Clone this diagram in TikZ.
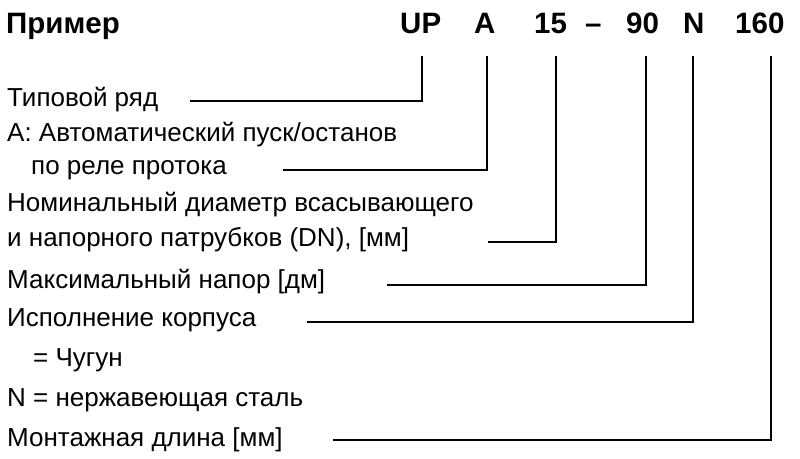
\documentclass[tikz,border=0pt]{standalone}
\usepackage{fontspec}
\setmainfont{Liberation Sans}
\begin{document}
\begin{tikzpicture}[x=1pt,y=-1pt,
  lbl/.style={anchor=base west, inner sep=0pt, font=\fontsize{26}{31}\selectfont},
  hdr/.style={anchor=base west, inner sep=0pt, font=\fontsize{29.5}{34}\selectfont\bfseries},
  conn/.style={line width=1.8pt, line join=miter}]
\useasboundingbox (0,0) rectangle (800,458);
% header
\node[hdr] (title) at (6,33) {Пример};
\node[hdr] (kUP) at (400,33) {UP};
\node[hdr] (kA) at (474,33) {A};
\node[hdr] (k15) at (534,33) {15};
\node[hdr] (kdash) at (585,33) {–};
\node[hdr] (k90) at (626,33) {90};
\node[hdr] (kN) at (683,33) {N};
\node[hdr] (k160) at (735,33) {160};
% labels
\node[lbl] (l1) at (7,106) {Типовой ряд};
\node[lbl] (l2a) at (7,141) {А: Автоматический пуск/останов};
\node[lbl] (l2b) at (31,174) {по реле протока};
\node[lbl] (l3a) at (7,211) {Номинальный диаметр всасывающего};
\node[lbl] (l3b) at (7,246) {и напорного патрубков (DN), [мм]};
\node[lbl] (l4) at (7,288) {Максимальный напор [дм]};
\node[lbl] (l5) at (7,326) {Исполнение корпуса};
\node[lbl] (l5a) at (33,366) {= Чугун};
\node[lbl] (l5b) at (7,406) {N = нержавеющая сталь};
\node[lbl] (l6) at (7,446) {Монтажная длина [мм]};
% connector ends
\coordinate (cUP) at (422,56);  \coordinate (eUP) at (190,101);
\coordinate (cA) at (487,56);   \coordinate (eA) at (283,170);
\coordinate (c15) at (556,56);  \coordinate (e15) at (488,242);
\coordinate (c90) at (646,56);  \coordinate (e90) at (387,285);
\coordinate (cN) at (693,56);   \coordinate (eN) at (307,322);
\coordinate (c160) at (771,56); \coordinate (e160) at (333,440);
\draw[conn] (cUP) |- (eUP);
\draw[conn] (cA) |- (eA);
\draw[conn] (c15) |- (e15);
\draw[conn] (c90) |- (e90);
\draw[conn] (cN) |- (eN);
\draw[conn] (c160) |- (e160);
\end{tikzpicture}
\end{document}
